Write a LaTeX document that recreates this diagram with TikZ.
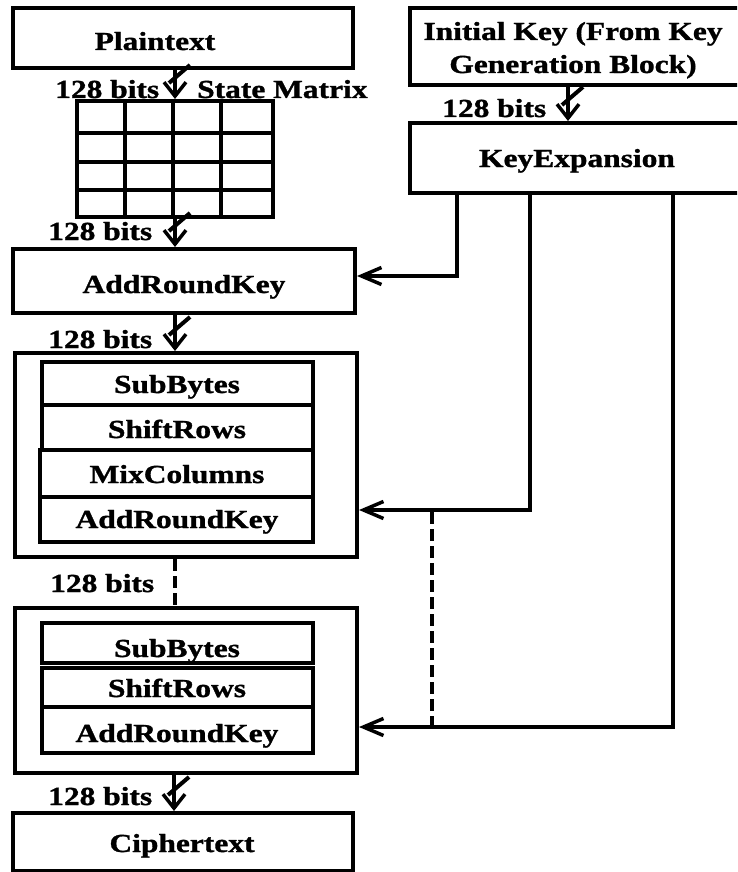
\documentclass[tikz,border=0pt]{standalone}
\usepackage{fontspec}
\setmainfont{Liberation Serif}[FakeStretch=1.21, BoldFeatures={FakeBold=1.2}]
\usetikzlibrary{arrows.meta}
\begin{document}
\begin{tikzpicture}[x=1pt,y=-1pt,
  box/.style={draw, line width=4pt, inner sep=0pt, rectangle},
  conn/.style={line width=3.5pt},
  txt/.style={font=\fontsize{26}{34}\selectfont\bfseries, inner sep=0pt, anchor=base},
  lbl/.style={font=\fontsize{26}{34}\selectfont\bfseries, inner sep=0pt, anchor=base west},
  busarr/.style={conn, -{Straight Barb[length=14pt,width=22pt]}},
  keyarr/.style={conn, -{Straight Barb[length=20pt,width=17pt]}},
  dsh/.style={conn, dash pattern=on 12pt off 5pt}]
\clip (0,0) rectangle (737,872);
\fill[white] (0,0) rectangle (737,872);
\newcommand\busslash[1]{\draw[line width=4pt] ([shift={(15pt,34pt)}]#1) -- ([shift={(-6pt,16pt)}]#1);}
% left column boxes
\node[box, minimum width=340pt, minimum height=60pt] (pt) at (183,38) {};
\node[txt] at (155,50) {Plaintext};
\node[box, minimum width=196pt, minimum height=116pt] (mat) at (175,159) {};
\draw[conn] (125,101) -- (125,217) (173,101) -- (173,217) (221,101) -- (221,217);
\draw[conn] (77,133) -- (273,133) (77,162) -- (273,162) (77,190) -- (273,190);
\node[box, minimum width=342pt, minimum height=64pt] (ark0) at (184,281) {};
\node[txt] at (184,293) {AddRoundKey};
% round 1
\node[box, minimum width=342pt, minimum height=204pt] (r1) at (186,455) {};
\node[box, minimum width=271pt, minimum height=43pt] (sb1) at (177.5,383.5) {};
\node[box, minimum width=271pt, minimum height=45pt] (sr1) at (177.5,427.5) {};
\node[box, minimum width=273pt, minimum height=47pt] (mc1) at (176.5,473.5) {};
\node[box, minimum width=273pt, minimum height=45pt] (ak1) at (176.5,519.5) {};
\node[txt] at (177,393) {SubBytes};
\node[txt] at (177,438) {ShiftRows};
\node[txt] at (177,483) {MixColumns};
\node[txt] at (177,528) {AddRoundKey};
% final round
\node[box, minimum width=342pt, minimum height=165pt] (r2) at (186,690.5) {};
\node[box, minimum width=271pt, minimum height=40pt] (sb2) at (177.5,643) {};
\node[box, minimum width=271pt, minimum height=39pt] (sr2) at (177.5,687.5) {};
\node[box, minimum width=271pt, minimum height=46pt] (ak2) at (177.5,730) {};
\node[txt] at (177,657) {SubBytes};
\node[txt] at (177,697) {ShiftRows};
\node[txt] at (177,742) {AddRoundKey};
\node[box, minimum width=340pt, minimum height=58pt] (ct) at (183,842) {};
\node[txt] at (182,852) {Ciphertext};
% right column
\node[box, minimum width=335pt, minimum height=77pt] (ik) at (577.5,46.5) {};
\node[txt] at (573,40) {Initial Key (From Key};
\node[txt] at (573,73) {Generation Block)};
\node[box, minimum width=335pt, minimum height=70pt] (ke) at (577.5,158) {};
\node[txt] at (577,167) {KeyExpansion};
% labels
\node[lbl] at (55,98) {128 bits};
\node[lbl] at (197,98) {State Matrix};
\node[lbl] at (48,240) {128 bits};
\node[lbl] at (48,348) {128 bits};
\node[lbl] at (50,592) {128 bits};
\node[lbl] at (48,805) {128 bits};
\node[lbl] at (442,117) {128 bits};
% coordinates
\coordinate (cx) at (174,0);
\coordinate (kx) at (568,0);
\coordinate (k1) at (457,276);
\coordinate (k2) at (530,510);
\coordinate (k3) at (673,727);
\coordinate (d1) at (432,512);
\coordinate (t0) at (mat.north |- pt.south);
\coordinate (t1) at (mat.north);
\coordinate (t2) at (ark0.north -| mat.south);
\coordinate (t3) at (r1.north -| mat.south);
\coordinate (t5) at (ct.north -| cx);
\coordinate (kt) at (ke.north -| kx);
% bus arrows
\draw[busarr] (t0) -- (t1); \busslash{t1}
\draw[busarr] (mat.south) -- (t2); \busslash{t2}
\draw[busarr] (ark0.south -| mat.south) -- (t3); \busslash{t3}
\draw[dsh] (r1.south -| mat.south) -- (r2.north -| mat.south);
\draw[busarr] (r2.south -| cx) -- (t5); \busslash{t5}
\draw[busarr] (ik.south -| kx) -- (kt); \busslash{kt}
% key connectors
\draw[keyarr] (ke.south -| k1) |- (ark0.east |- k1);
\draw[keyarr] (ke.south -| k2) |- (r1.east |- k2);
\draw[keyarr] (ke.south -| k3) |- (r2.east |- k3);
\draw[dsh] (d1) -- (d1 |- k3);
\end{tikzpicture}
\end{document}
